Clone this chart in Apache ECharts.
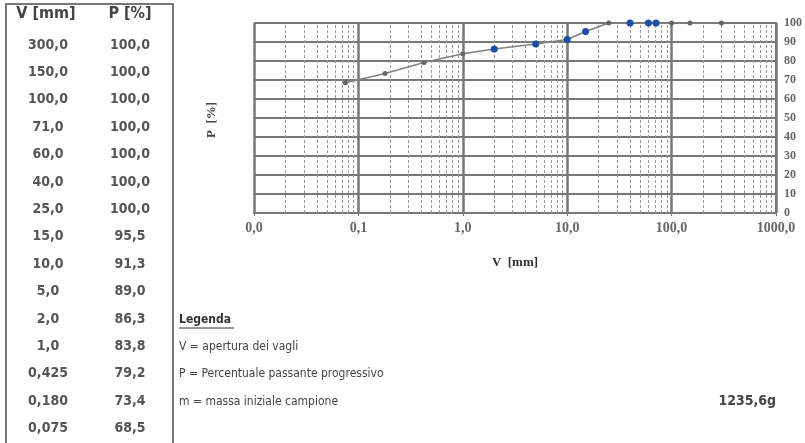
<!DOCTYPE html>
<html><head><meta charset="utf-8">
<script src="https://cdn.jsdelivr.net/npm/echarts@6/dist/echarts.min.js"></script>
<style>html,body{margin:0;padding:0;background:#fff}#c{width:805px;height:443px}</style>
</head><body><div id="c"></div>
<script>
// Data
const sieveSizes = [300.0, 150.0, 100.0, 71.0, 60.0, 40.0, 25.0, 15.0, 10.0, 5.0, 2.0, 1.0, 0.425, 0.180, 0.075];
const passing    = [100.0, 100.0, 100.0, 100.0, 100.0, 100.0, 100.0, 95.5, 91.3, 89.0, 86.3, 83.8, 79.2, 73.4, 68.5];
const tableHeaders = ['V [mm]', 'P [%]'];
const legendLines = ['V = apertura dei vagli', 'P = Percentuale passante progressivo', 'm = massa iniziale campione'];
const sampleMass = '1235,6g';
const minorGridValues = [];
[0.01, 0.1, 1, 10, 100].forEach(d => { for (let k = 2; k <= 9; k++) minorGridValues.push(+(d * k).toPrecision(3)); });
const blueSizes = [71.0, 60.0, 40.0, 15.0, 10.0, 5.0, 2.0];

const fmtSize = v => (v < 1 ? v.toFixed(3) : v.toFixed(1)).replace('.', ',');
const fmtP = v => v.toFixed(1).replace('.', ',');

const chart = echarts.init(document.getElementById('c'), null, {renderer: 'canvas'});

const graphics = [];
graphics.push({type: 'line', shape: {x1: 6, y1: 4, x2: 173, y2: 4}, style: {stroke: '#777', lineWidth: 2}});
graphics.push({type: 'line', shape: {x1: 6, y1: 3, x2: 6, y2: 443}, style: {stroke: '#777', lineWidth: 2}});
graphics.push({type: 'line', shape: {x1: 173, y1: 3, x2: 173, y2: 443}, style: {stroke: '#777', lineWidth: 2}});
const tfont = 'bold 14px "DejaVu Sans Condensed"';
graphics.push({type: 'text', x: 46, y: 14, style: {text: tableHeaders[0], font: 'bold 16px "DejaVu Sans Condensed"', fill: '#444', align: 'center', verticalAlign: 'middle'}});
graphics.push({type: 'text', x: 130, y: 14, style: {text: tableHeaders[1], font: 'bold 16px "DejaVu Sans Condensed"', fill: '#444', align: 'center', verticalAlign: 'middle'}});
sieveSizes.forEach((s, i) => {
  const y = 45 + i * 27.4;
  graphics.push({type: 'text', x: 48, y: y, style: {text: fmtSize(s), font: tfont, fill: '#555', align: 'center', verticalAlign: 'middle'}});
  graphics.push({type: 'text', x: 130, y: y, style: {text: fmtP(passing[i]), font: tfont, fill: '#555', align: 'center', verticalAlign: 'middle'}});
});
graphics.push({type: 'text', x: 179, y: 320, style: {text: 'Legenda', font: 'bold 12px "DejaVu Sans Condensed"', fill: '#333', verticalAlign: 'middle'}});
graphics.push({type: 'line', shape: {x1: 179, y1: 328, x2: 234, y2: 328}, style: {stroke: '#333', lineWidth: 1}});
legendLines.forEach((t, i) => {
  graphics.push({type: 'text', x: 179, y: 347 + i * 27.2, style: {text: t, font: '12px "DejaVu Sans Condensed"', fill: '#444', verticalAlign: 'middle'}});
});
graphics.push({type: 'text', x: 776, y: 401, style: {text: sampleMass, font: 'bold 14px "DejaVu Sans Condensed"', fill: '#444', align: 'right', verticalAlign: 'middle'}});

chart.setOption({
  animation: false,
  backgroundColor: '#fff',
  grid: {left: 254, right: 29, top: 23, bottom: 230, containLabel: false},
  xAxis: {
    type: 'log', logBase: 10, min: 0.01, max: 1000,
    name: 'V  [mm]', nameLocation: 'middle', nameGap: 43,
    nameTextStyle: {fontFamily: '"Liberation Serif", serif', fontSize: 13, fontWeight: 'bold', color: '#333'},
    axisLine: {show: true, lineStyle: {color: '#777', width: 2}},
    axisTick: {show: true, length: 3, lineStyle: {color: '#777'}},
    axisLabel: {formatter: v => fmtP(v), fontFamily: '"Liberation Serif", serif', fontWeight: 'bold', fontSize: 14, color: '#666', margin: 8},
    splitLine: {show: true, lineStyle: {color: '#777', width: 2.5}}
  },
  yAxis: {
    type: 'value', min: 0, max: 100, interval: 10, position: 'right',
    axisLine: {show: true, lineStyle: {color: '#777', width: 2}},
    axisTick: {show: false},
    axisLabel: {fontFamily: '"Liberation Serif", serif', fontWeight: 'bold', fontSize: 12, color: '#666', margin: 8},
    splitLine: {show: true, lineStyle: {color: '#777', width: 2}}
  },
  graphic: graphics.concat([
    {type: 'text', x: 212, y: 120, rotation: Math.PI / 2, style: {text: 'P  [%]', font: 'bold 13px "Liberation Serif"', fill: '#444', align: 'center', verticalAlign: 'middle'}}
  ]),
  series: [
    {
      type: 'line', data: [], silent: true,
      markLine: {
        silent: true, symbol: 'none', label: {show: false},
        lineStyle: {color: '#999', width: 1, type: [3, 2]},
        data: minorGridValues.map(v => ({xAxis: v}))
      }
    },
    {
      type: 'line',
      data: sieveSizes.map((s, i) => [s, passing[i]]),
      symbol: 'circle',
      symbolSize: (v) => blueSizes.includes(v[0]) ? 7 : 5,
      lineStyle: {color: '#808080', width: 1.5},
      itemStyle: {color: (p) => blueSizes.includes(p.value[0]) ? '#1d4fa6' : '#666'},
      z: 5
    }
  ]
});
</script></body></html>
